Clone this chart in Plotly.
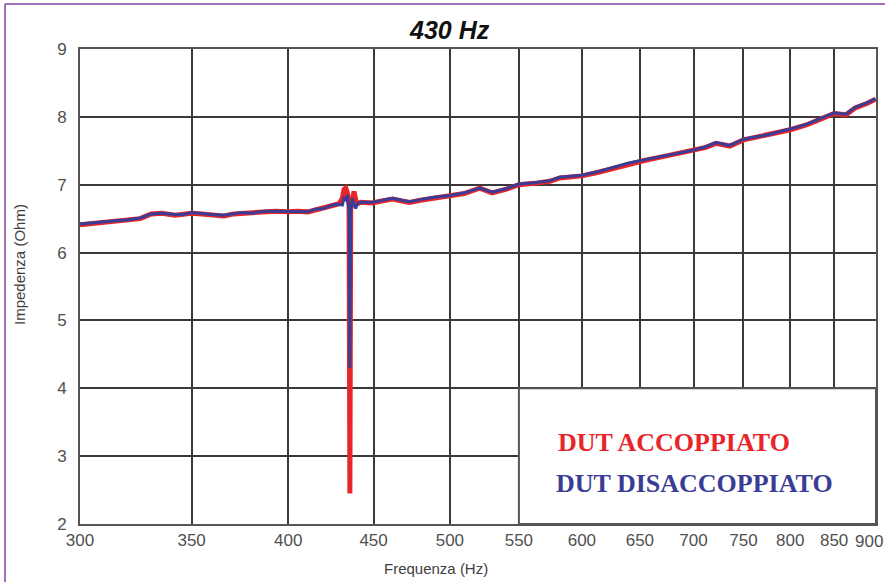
import plotly.graph_objects as go
import math

# ---- data ----
freq = [300, 305, 310, 315, 320, 326, 331, 336, 342, 346, 350, 355, 360, 366, 371, 375,
        380, 387, 393, 400, 405, 411, 415, 420, 425, 429,
        431, 432, 433, 434, 435, 435.5, 436, 437, 438, 439, 440,
        442, 449, 455, 462, 468, 473, 480, 488, 500, 510, 521, 530, 540, 550, 562, 574,
        582, 600, 613, 626, 640, 655, 670, 685, 700, 712, 722, 736, 750, 765, 777, 790,
        800, 818, 835, 850, 864, 875, 890, 900]

z_coupled = [6.41, 6.43, 6.45, 6.46, 6.48, 6.50, 6.57, 6.58, 6.55, 6.56, 6.58, 6.57, 6.56, 6.54, 6.57, 6.58,
             6.58, 6.60, 6.61, 6.60, 6.61, 6.60, 6.63, 6.65, 6.70, 6.72,
             6.80, 6.93, 6.95, 6.88, 6.70, 2.45, 6.65, 6.85, 6.90, 6.78, 6.72,
             6.74, 6.73, 6.76, 6.79, 6.76, 6.74, 6.77, 6.80, 6.83, 6.87, 6.95, 6.88, 6.93, 7.00, 7.02, 7.05,
             7.10, 7.13, 7.18, 7.24, 7.31, 7.36, 7.41, 7.46, 7.50, 7.55, 7.61, 7.57, 7.66, 7.70, 7.73, 7.78,
             7.81, 7.88, 7.97, 8.05, 8.03, 8.13, 8.20, 8.26]

z_decoupled = [6.42, 6.44, 6.45, 6.47, 6.48, 6.51, 6.57, 6.58, 6.56, 6.56, 6.59, 6.57, 6.56, 6.55, 6.57, 6.59,
               6.58, 6.61, 6.61, 6.61, 6.61, 6.60, 6.64, 6.65, 6.70, 6.71,
               6.70, 6.80, 6.78, 6.85, 6.60, 4.30, 6.60, 6.80, 6.70, 6.65, 6.72,
               6.74, 6.74, 6.77, 6.80, 6.77, 6.75, 6.78, 6.81, 6.84, 6.88, 6.95, 6.89, 6.94, 7.01, 7.03, 7.06,
               7.11, 7.14, 7.19, 7.25, 7.32, 7.37, 7.42, 7.47, 7.51, 7.56, 7.62, 7.58, 7.67, 7.71, 7.74, 7.79,
               7.82, 7.89, 7.98, 8.06, 8.04, 8.14, 8.21, 8.27]

x_ticks = [300, 350, 400, 450, 500, 550, 600, 650, 700, 750, 800, 850, 900]
y_ticks = [2, 3, 4, 5, 6, 7, 8, 9]

title_text = "430 Hz"
label_coupled = "DUT ACCOPPIATO"
label_decoupled = "DUT DISACCOPPIATO"

# ---- layout geometry ----
L, R, T, B = 80, 9, 49, 58
W, H = 885, 582
PW, PH = W - L - R, H - T - B

def px(xpix):
    return (xpix - L) / PW

def py(ypix):
    return (H - B - ypix) / PH

grid_col = "#3a3a3a"
red = "#e8262a"
blue = "#3a3c96"
tick_col = "#505050"

fig = go.Figure()
fig.add_trace(go.Scatter(x=freq, y=z_coupled, mode="lines",
                         line=dict(color=red, width=5), showlegend=False))
fig.add_trace(go.Scatter(x=freq, y=z_decoupled, mode="lines",
                         line=dict(color=blue, width=3), showlegend=False))

xr0, xr1 = math.log10(300), math.log10(900) + 0.0003
lx0 = (math.log10(550) - xr0) / (xr1 - xr0)

# last x tick label drawn as annotation so it stays inside the page (as in the reference)
x_ticktext = [str(v) for v in x_ticks[:-1]] + [""]

fig.update_layout(
    width=W, height=H,
    margin=dict(l=L, r=R, t=T, b=B, pad=0),
    paper_bgcolor="white", plot_bgcolor="white",
    font=dict(family="Liberation Sans, Arial, sans-serif", color=tick_col),
    xaxis=dict(type="log", range=[xr0, xr1],
               tickvals=x_ticks, ticktext=x_ticktext,
               showgrid=True, gridcolor=grid_col, gridwidth=2,
               showline=True, linecolor="#555555", linewidth=2, mirror=True,
               ticks="", tickfont=dict(size=17, color=tick_col), zeroline=False,
               automargin=False),
    yaxis=dict(range=[2, 9], tickvals=y_ticks,
               showgrid=True, gridcolor=grid_col, gridwidth=2,
               showline=True, linecolor="#555555", linewidth=2, mirror=True,
               ticks="", tickfont=dict(size=17, color=tick_col), zeroline=False,
               ticklabelstandoff=8, automargin=False, ticklabeloverflow="allow"),
    shapes=[
        dict(type="rect", xref="paper", yref="y", x0=lx0, x1=1, y0=2, y1=4,
             fillcolor="white", line=dict(color="#555555", width=2), layer="above"),
        dict(type="line", xref="paper", yref="paper", x0=px(5), x1=px(5), y0=py(4), y1=py(600),
             line=dict(color="#a070b8", width=2)),
        dict(type="line", xref="paper", yref="paper", x0=px(5), x1=px(900), y0=py(4), y1=py(4),
             line=dict(color="#a070b8", width=2)),
    ],
    annotations=[
        dict(text=str(x_ticks[-1]), xref="paper", yref="paper",
             x=px(885), y=py(541), showarrow=False, xanchor="right", yanchor="middle",
             font=dict(size=17, color=tick_col)),
        dict(text="<b><i>" + title_text + "</i></b>", xref="paper", yref="paper",
             x=px(449), y=py(30), showarrow=False, xanchor="center", yanchor="middle",
             font=dict(size=25, color="#111111", family="Liberation Sans, Arial, sans-serif")),
        dict(text="Impedenza (Ohm)", xref="paper", yref="paper", textangle=-90,
             x=px(19), y=py(265), showarrow=False, xanchor="center", yanchor="middle",
             font=dict(size=15, color="#404040")),
        dict(text="Frequenza (Hz)", xref="paper", yref="paper",
             x=px(436), y=py(568), showarrow=False, xanchor="center", yanchor="middle",
             font=dict(size=15, color="#404040")),
        dict(text="<b>" + label_coupled + "</b>", xref="paper", yref="paper",
             x=px(556), y=py(442), showarrow=False, xanchor="left", yanchor="middle",
             font=dict(size=26, color=red, family="Liberation Serif, Times New Roman, serif")),
        dict(text="<b>" + label_decoupled + "</b>", xref="paper", yref="paper",
             x=px(554), y=py(483), showarrow=False, xanchor="left", yanchor="middle",
             font=dict(size=26, color=blue, family="Liberation Serif, Times New Roman, serif")),
    ],
)

fig.write_html("out.html", config={"displayModeBar": False},
               post_script="document.body.style.margin='0';document.body.style.overflow='hidden';")
